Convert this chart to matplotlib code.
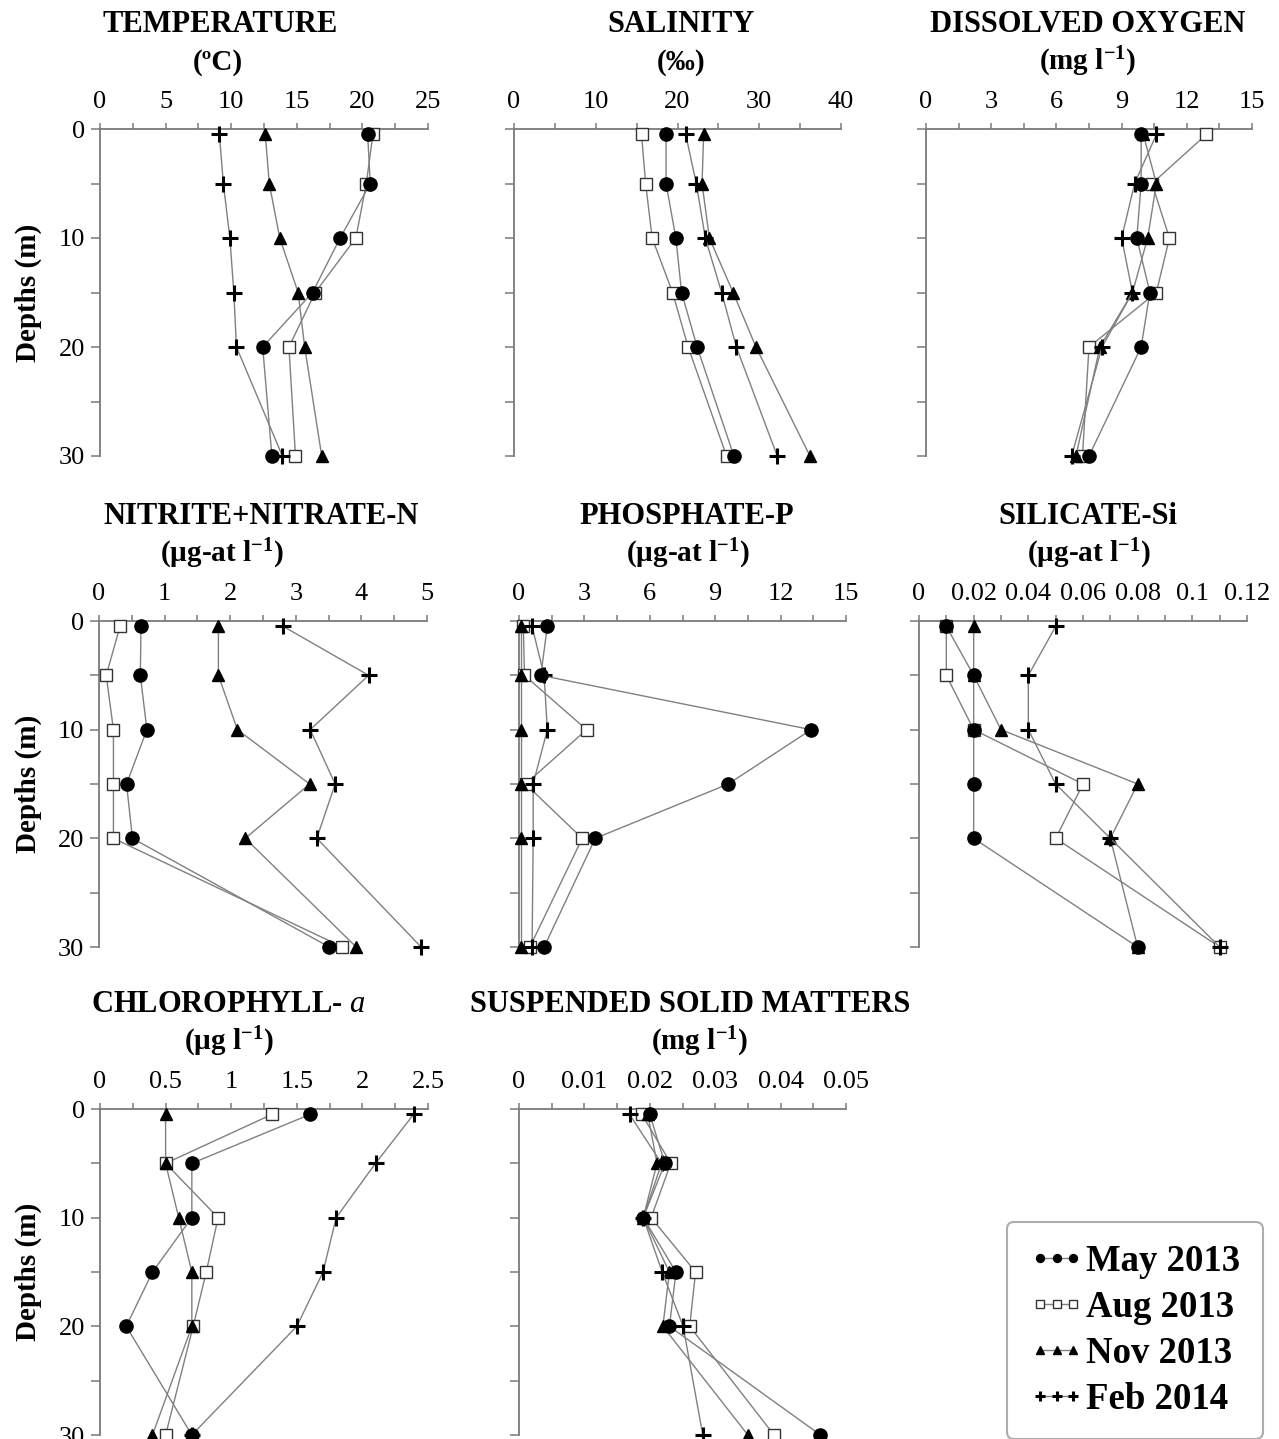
import matplotlib
matplotlib.use("Agg")
import matplotlib.pyplot as plt
from matplotlib.lines import Line2D

plt.rcParams['font.family'] = ['Liberation Serif', 'DejaVu Serif']
plt.rcParams['mathtext.fontset'] = 'custom'
plt.rcParams['mathtext.rm'] = 'Liberation Serif'
plt.rcParams['mathtext.bf'] = 'Liberation Serif:bold'
plt.rcParams['mathtext.it'] = 'Liberation Serif:italic'

# sampling depths (surface sample plotted at 0.5 m)
depths = [0.5, 5, 10, 15, 20, 30]
months = ["May 2013", "Aug 2013", "Nov 2013", "Feb 2014"]
draw_order = ["Aug 2013", "Nov 2013", "Feb 2014", "May 2013"]

temperature = {
    "May 2013": [20.4, 20.6, 18.3, 16.2, 12.4, 13.1],
    "Aug 2013": [20.8, 20.3, 19.5, 16.4, 14.4, 14.9],
    "Nov 2013": [12.6, 12.9, 13.7, 15.1, 15.6, 16.9],
    "Feb 2014": [9.1, 9.4, 9.9, 10.2, 10.4, 13.9],
}
salinity = {
    "May 2013": [18.6, 18.6, 19.8, 20.5, 22.4, 26.9],
    "Aug 2013": [15.6, 16.1, 16.9, 19.4, 21.3, 26.0],
    "Nov 2013": [23.2, 23.0, 23.9, 26.8, 29.6, 36.2],
    "Feb 2014": [21.0, 22.3, 23.4, 25.4, 27.2, 32.2],
}
oxygen = {
    "May 2013": [9.9, 9.9, 9.7, 10.3, 9.9, 7.5],
    "Aug 2013": [12.9, 10.4, 11.2, 10.6, 7.5, 7.2],
    "Nov 2013": [10.0, 10.6, 10.2, 9.5, 8.0, 6.9],
    "Feb 2014": [10.6, 9.6, 9.0, 9.5, 8.1, 6.7],
}
nitrate = {
    "May 2013": [0.64, 0.63, 0.73, 0.42, 0.51, 3.51],
    "Aug 2013": [0.32, 0.11, 0.22, 0.22, 0.22, 3.71],
    "Nov 2013": [1.82, 1.82, 2.11, 3.21, 2.23, 3.92],
    "Feb 2014": [2.81, 4.11, 3.22, 3.60, 3.32, 4.91],
}
phosphate = {
    "May 2013": [1.3, 1.0, 13.4, 9.6, 3.5, 1.15],
    "Aug 2013": [0.2, 0.25, 3.1, 0.3, 2.9, 0.5],
    "Nov 2013": [0.1, 0.1, 0.1, 0.1, 0.1, 0.1],
    "Feb 2014": [0.6, 1.15, 1.3, 0.65, 0.65, 0.6],
}
silicate = {
    "May 2013": [0.01, 0.02, 0.02, 0.02, 0.02, 0.08],
    "Aug 2013": [0.01, 0.01, 0.02, 0.06, 0.05, 0.11],
    "Nov 2013": [0.02, 0.02, 0.03, 0.08, 0.07, 0.08],
    "Feb 2014": [0.05, 0.04, 0.04, 0.05, 0.07, 0.11],
}
chlorophyll = {
    "May 2013": [1.6, 0.7, 0.7, 0.4, 0.2, 0.7],
    "Aug 2013": [1.31, 0.5, 0.9, 0.81, 0.71, 0.5],
    "Nov 2013": [0.5, 0.5, 0.6, 0.7, 0.7, 0.4],
    "Feb 2014": [2.39, 2.1, 1.8, 1.7, 1.5, 0.7],
}
suspended = {
    "May 2013": [0.0200, 0.0223, 0.0190, 0.0240, 0.0230, 0.0461],
    "Aug 2013": [0.0188, 0.0232, 0.0202, 0.0270, 0.0261, 0.0390],
    "Nov 2013": [0.0197, 0.0211, 0.0190, 0.0230, 0.0220, 0.0350],
    "Feb 2014": [0.0169, 0.0218, 0.0190, 0.0219, 0.0251, 0.0281],
}

styles = {
    "May 2013": dict(marker='o', ms=9.5, mfc='black', mec='black'),
    "Aug 2013": dict(marker='s', ms=9, mfc='white', mec='#333333', mew=1.0),
    "Nov 2013": dict(marker='^', ms=8.5, mfc='black', mec='black'),
    "Feb 2014": dict(marker='+', ms=11, mec='black', mew=2.2),
}
line_color = '#808080'
axis_color = '#7a7a7a'

# title, unit, data, x ticks, tick labels, axes box in pixels (x0, x1, y0, y30), title x centre
panels = [
    ("TEMPERATURE", "(ºC)", temperature, [0, 5, 10, 15, 20, 25], None, (100, 428, 129, 456), 220),
    ("SALINITY", "(‰)", salinity, [0, 10, 20, 30, 40], None, (514, 841, 129, 456), 681),
    ("DISSOLVED OXYGEN", r"(mg l$^{\mathbf{-1}}$)", oxygen, [0, 3, 6, 9, 12, 15], None, (926, 1252, 129, 456), 1088),
    ("NITRITE+NITRATE-N", r"(µg-at l$^{\mathbf{-1}}$)", nitrate, [0, 1, 2, 3, 4, 5], None, (99, 427, 621, 947), 261),
    ("PHOSPHATE-P", r"(µg-at l$^{\mathbf{-1}}$)", phosphate, [0, 3, 6, 9, 12, 15], None, (519, 846, 621, 947), 687),
    ("SILICATE-Si", r"(µg-at l$^{\mathbf{-1}}$)", silicate, [0, 0.02, 0.04, 0.06, 0.08, 0.1, 0.12],
     ["0", "0.02", "0.04", "0.06", "0.08", "0.1", "0.12"], (919, 1247, 621, 947), 1088),
    ("CHLOROPHYLL-", r"(µg l$^{\mathbf{-1}}$)", chlorophyll, [0, 0.5, 1, 1.5, 2, 2.5],
     ["0", "0.5", "1", "1.5", "2", "2.5"], (100, 428, 1109, 1435), 228),
    ("SUSPENDED SOLID MATTERS", r"(mg l$^{\mathbf{-1}}$)", suspended, [0, 0.01, 0.02, 0.03, 0.04, 0.05],
     ["0", "0.01", "0.02", "0.03", "0.04", "0.05"], (519, 846, 1109, 1435), 690),
]
units_x = [218, 681, 1088, 222, 688, 1089, 229, 700]

W, H = 1279, 1439
fig = plt.figure(figsize=(W / 100, H / 100), dpi=100)

for i, (title, unit, data, xt, xtl, box, tx) in enumerate(panels):
    x0, x1, y0, y30 = box
    ax = fig.add_axes([x0 / W, 1 - y30 / H, (x1 - x0) / W, (y30 - y0) / H])
    for m in draw_order:
        ax.plot(data[m], depths, color=line_color, lw=1.0, clip_on=False, zorder=3, **styles[m])
    ax.set_xlim(0, xt[-1])
    ax.set_ylim(30, 0)
    for s in ['right', 'bottom']:
        ax.spines[s].set_visible(False)
    for s in ['top', 'left']:
        ax.spines[s].set_color(axis_color)
        ax.spines[s].set_linewidth(1.3)
    ax.xaxis.tick_top()
    ax.set_xticks(xt)
    ax.set_xticklabels(xtl if xtl else [str(v) for v in xt])
    step = xt[1] - xt[0]
    ax.set_xticks([v + step / 2 for v in xt[:-1]], minor=True)
    ax.tick_params(axis='x', which='both', direction='out', length=4.5, width=1.1,
                   color=axis_color, labelsize=19, pad=7)
    ax.set_yticks([0, 5, 10, 15, 20, 25, 30])
    ax.tick_params(axis='y', which='both', direction='out', length=6.5, width=1.1,
                   color=axis_color, labelsize=19, pad=4)
    if i in (0, 3, 6):
        ax.set_yticklabels(["0", "", "10", "", "20", "", "30"])
        ax.set_ylabel("Depths (m)", fontsize=21, fontweight='bold')
        ax.yaxis.set_label_coords((42 - x0) / (x1 - x0), 0.5)
    else:
        ax.set_yticklabels([])

    ty = y0 - 104
    if title == "CHLOROPHYLL-":
        fig.text(tx / W, 1 - ty / H, r"CHLOROPHYLL- $\mathit{a}$", ha='center', va='center',
                 fontsize=22, fontweight='bold')
    else:
        fig.text(tx / W, 1 - ty / H, title, ha='center', va='center', fontsize=22, fontweight='bold')
    fig.text(units_x[i] / W, 1 - (y0 - 67) / H, unit, ha='center', va='center',
             fontsize=21, fontweight='bold')

handles = [Line2D([0], [0], color=line_color, lw=1.0,
                  **{**styles[m], 'ms': styles[m]['ms'] * 0.6}) for m in months]
leg = fig.legend(handles, months, loc='upper left', bbox_to_anchor=(1007 / W, 1 - 1222 / H),
                 borderaxespad=0, numpoints=3, handlelength=1.5, handletextpad=0.06,
                 labelspacing=0.3, borderpad=0.6, fancybox=True, frameon=True,
                 prop={'family': 'Liberation Serif', 'weight': 'bold', 'size': 26.5})
leg.get_frame().set_edgecolor('#999999')
leg.get_frame().set_linewidth(1.5)

fig.savefig("out.png", dpi=100)
